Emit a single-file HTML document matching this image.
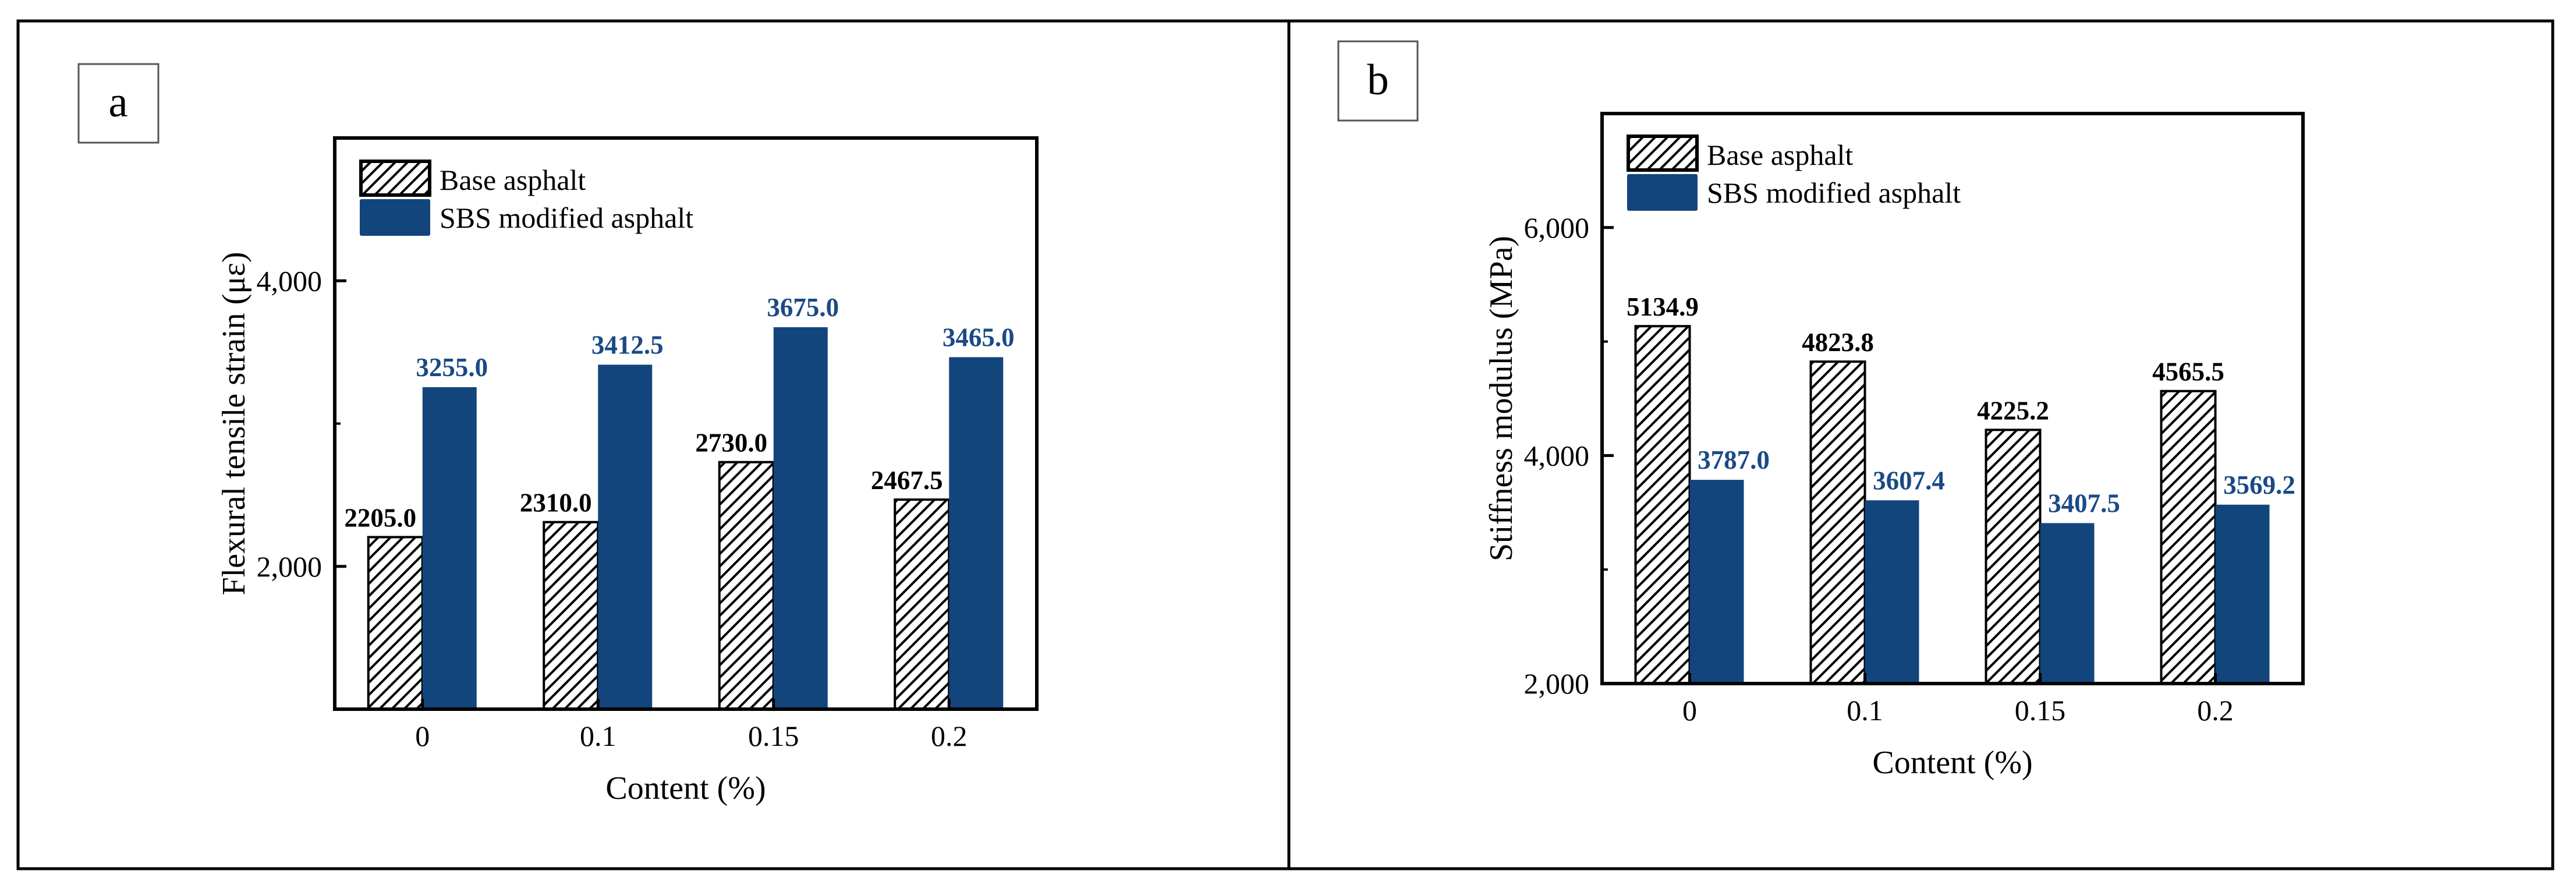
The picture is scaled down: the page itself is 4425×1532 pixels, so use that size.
<!DOCTYPE html>
<html><head><meta charset="utf-8"><style>
html,body{margin:0;padding:0;background:#fff;}
svg{display:block;font-family:"Liberation Serif",serif;}
</style></head><body>
<svg id="fig" width="4425" height="1532" viewBox="0 0 4425 1532" xmlns="http://www.w3.org/2000/svg">
<defs>
<pattern id="hatch" patternUnits="userSpaceOnUse" width="15" height="15" patternTransform="rotate(45)">
<rect width="15" height="15" fill="#fff"/>
<rect x="0" y="0" width="4" height="15" fill="#000"/>
</pattern>
</defs>
<rect x="31" y="36" width="4354" height="1456" fill="none" stroke="#000" stroke-width="5"/>
<line x1="2214" y1="36" x2="2214" y2="1492" stroke="#000" stroke-width="5"/>
<g>
<rect x="135" y="110" width="137" height="135" fill="#fff" stroke="#555" stroke-width="3"/>
<text x="203" y="200" font-size="75" text-anchor="middle">a</text>
</g>
<g>
<rect x="2299" y="71" width="136" height="136" fill="#fff" stroke="#555" stroke-width="3"/>
<text x="2367" y="162" font-size="75" text-anchor="middle">b</text>
</g>
<g id="chartA"></g>
<g id="chartB"></g>
</svg>
<script>
const categories = ["0", "0.1", "0.15", "0.2"];
const baseA = [2205.0, 2310.0, 2730.0, 2467.5];
const sbsA = [3255.0, 3412.5, 3675.0, 3465.0];
const baseB = [5134.9, 4823.8, 4225.2, 4565.5];
const sbsB = [3787.0, 3607.4, 3407.5, 3569.2];
const ticksA = [2000, 4000];
const minorA = [3000];
const ticksB = [2000, 4000, 6000];
const minorB = [3000, 5000];

const NS = "http://www.w3.org/2000/svg";
const BLUE = "#13457d", LBLUE = "#1a4a86";
function mk(parent, tag, attrs, txt) {
  const e = document.createElementNS(NS, tag);
  for (const k in attrs) e.setAttribute(k, attrs[k]);
  if (txt !== undefined) e.textContent = txt;
  parent.appendChild(e);
  return e;
}
function fmt(v) { return v.toLocaleString("en-US"); }

function drawChart(g, cfg) {
  const { left, right, top, bottom, ymin, ymax, base, sbs, ticks, minor, ytitle, ytitleX, legTop, xlabY, titleY, baseOff, sbsOff, sbsWeight } = cfg;
  const y = v => bottom - (v - ymin) / (ymax - ymin) * (bottom - top);
  const band = (right - left) / categories.length;
  const cx = i => left + band * (i + 0.5);
  const bw = 93;
  for (let i = 0; i < categories.length; i++) {
    const yb = y(base[i]);
    const r1 = mk(g, "rect", { x: cx(i) - bw, y: yb, width: bw, height: bottom - yb, fill: "url(#hatch)", stroke: "#000", "stroke-width": 4 });
    
    
    const ys = y(sbs[i]);
    const r2 = mk(g, "rect", { x: cx(i), y: ys, width: bw, height: bottom - ys, fill: BLUE });
    
    
    const t1 = mk(g, "text", { x: cx(i) - bw / 2 + baseOff, y: yb - 18, "font-size": 45, "font-weight": "bold", "text-anchor": "middle", fill: "#000" }, base[i].toFixed(1));
    
    
    const t2 = mk(g, "text", { x: cx(i) + bw / 2 + sbsOff, y: ys - 19, "font-size": 45, "font-weight": sbsWeight, "text-anchor": "middle", fill: LBLUE }, sbs[i].toFixed(1));
    
    
    const tk = mk(g, "line", { x1: cx(i), x2: cx(i), y1: bottom, y2: bottom - 18, stroke: "#000", "stroke-width": 5 });
    
    
    const xl = mk(g, "text", { x: cx(i), y: xlabY, "font-size": 50, "text-anchor": "middle" }, categories[i]);
    
    
  }
  ticks.forEach(v => {
    const l = mk(g, "line", { x1: left, x2: left + 20, y1: y(v), y2: y(v), stroke: "#000", "stroke-width": 5 });
    
    
    const t = mk(g, "text", { x: left - 22, y: y(v) + 17, "font-size": 50, "text-anchor": "end" }, fmt(v));
    
    
  });
  minor.forEach(v => {
    const l = mk(g, "line", { x1: left, x2: left + 10, y1: y(v), y2: y(v), stroke: "#000", "stroke-width": 4 });
    
    
  });
  const frame = mk(g, "rect", { x: left, y: top, width: right - left, height: bottom - top, fill: "none", stroke: "#000", "stroke-width": 6 });
  
  
  const yt = mk(g, "text", { x: ytitleX, y: (top + bottom) / 2, "font-size": 56, "text-anchor": "middle", transform: `rotate(-90 ${ytitleX} ${(top + bottom) / 2})` }, ytitle);
  
  
  const xt = mk(g, "text", { x: (left + right) / 2, y: titleY, "font-size": 56, "text-anchor": "middle" }, "Content (%)");
  
  
  const lx = left + 45;
  const lg = mk(g, "g", {});
  
  
  mk(lg, "rect", { x: lx, y: legTop, width: 118, height: 58, fill: "url(#hatch)", stroke: "#000", "stroke-width": 6 });
  mk(lg, "rect", { x: lx - 2, y: legTop + 65, width: 121, height: 63, fill: BLUE, rx: 3 });
  const e1 = mk(lg, "text", { x: lx + 135, y: legTop + 49, "font-size": 50 }, "Base asphalt");
  
  
  const e2 = mk(lg, "text", { x: lx + 135, y: legTop + 114, "font-size": 50 }, "SBS modified asphalt");
  
  
}

drawChart(document.getElementById("chartA"), {
  left: 575, right: 1781, top: 237, bottom: 1218, ymin: 1000, ymax: 5000,
  base: baseA, sbs: sbsA, ticks: ticksA, minor: minorA,
  ytitle: "Flexural tensile strain (\u03BC\u03B5)", ytitleX: 420, legTop: 277, xlabY: 1281, titleY: 1372,
  baseOff: -26, sbsOff: 4, sbsWeight: "bold"
});
drawChart(document.getElementById("chartB"), {
  left: 2752, right: 3956, top: 195, bottom: 1174, ymin: 2000, ymax: 7000,
  base: baseB, sbs: sbsB, ticks: ticksB, minor: minorB,
  ytitle: "Stiffness modulus (MPa)", ytitleX: 2597, legTop: 234, xlabY: 1237, titleY: 1328,
  baseOff: 0, sbsOff: 29, sbsWeight: "bold"
});
</script>
</body></html>
